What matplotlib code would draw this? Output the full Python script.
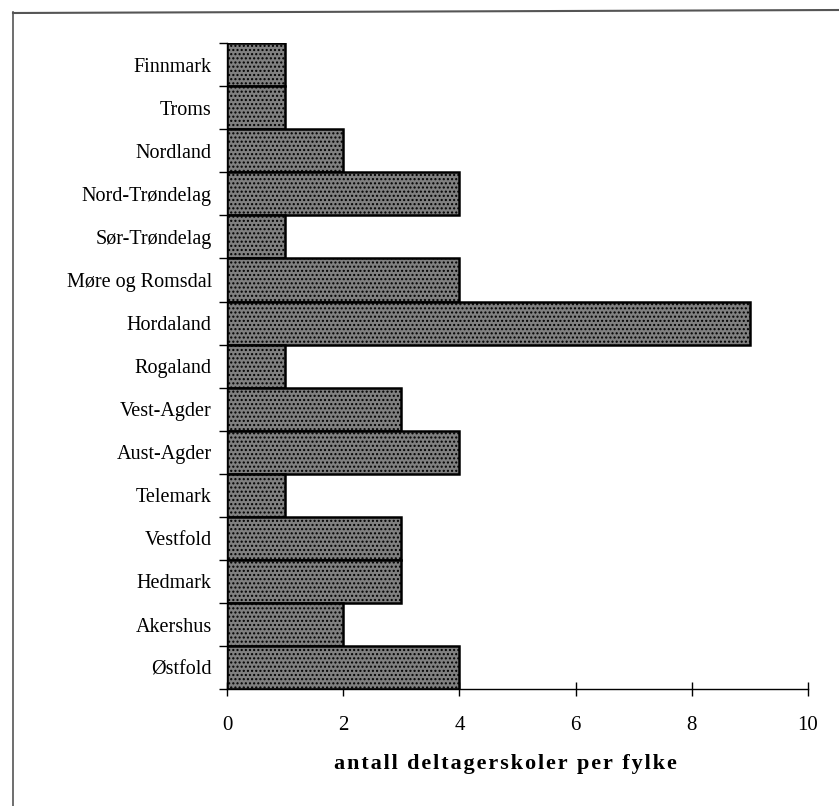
import matplotlib
matplotlib.use("Agg")
import matplotlib.pyplot as plt
from matplotlib.lines import Line2D

fylker = ["Finnmark", "Troms", "Nordland", "Nord-Trøndelag", "Sør-Trøndelag",
          "Møre og Romsdal", "Hordaland", "Rogaland", "Vest-Agder", "Aust-Agder",
          "Telemark", "Vestfold", "Hedmark", "Akershus", "Østfold"]
antall = [1, 1, 2, 4, 1, 4, 9, 1, 3, 4, 1, 3, 3, 2, 4]
xticks = [0, 2, 4, 6, 8, 10]
xlabel = "antall deltagerskoler per fylke"

serif = ["Liberation Serif", "DejaVu Serif"]
plt.rcParams['font.family'] = serif
plt.rcParams['hatch.color'] = '#4a4a4a'

fig = plt.figure(figsize=(8.39, 8.06), dpi=100)
ax = fig.add_axes([0.2706, 0.145, 0.6925, 0.8015])

n = len(fylker)
ypos = list(range(n))[::-1]
ax.barh(ypos, antall, height=1.0, color="#808080", edgecolor="black",
        linewidth=1.8, hatch="....", zorder=2)

ax.set_xlim(0, 10)
ax.set_ylim(-0.5, n - 0.5)

for s in ["top", "right"]:
    ax.spines[s].set_visible(False)
ax.spines["left"].set_linewidth(1.0)
ax.spines["bottom"].set_linewidth(1.0)

ax.set_xticks(xticks)
ax.set_xticklabels([str(v) for v in xticks], fontsize=15)
ax.tick_params(axis="x", direction="inout", length=10, width=1.0, pad=14)

# category labels centered, ticks at boundaries
ax.set_yticks(ypos)
ax.set_yticklabels(fylker, fontsize=14.5)
ax.tick_params(axis="y", which="major", length=0, pad=11)
ax.set_yticks([i - 0.5 for i in range(n + 1)], minor=True)
ax.tick_params(axis="y", which="minor", direction="out", length=6, width=1.0)

spaced = "\u200a".join(list(xlabel))
ax.set_xlabel(spaced, fontsize=16, fontweight="bold")
ax.xaxis.set_label_coords(0.48, -0.101)

# scan frame (left and top border)
fig.add_artist(Line2D([13/839, 13/839], [0, 1 - 12/806], color="#555555", lw=1.2,
                      transform=fig.transFigure))
fig.add_artist(Line2D([13/839, 1], [1 - 13/806, 1 - 10/806], color="#555555", lw=1.5,
                      transform=fig.transFigure))

fig.savefig("out.png", dpi=100)
